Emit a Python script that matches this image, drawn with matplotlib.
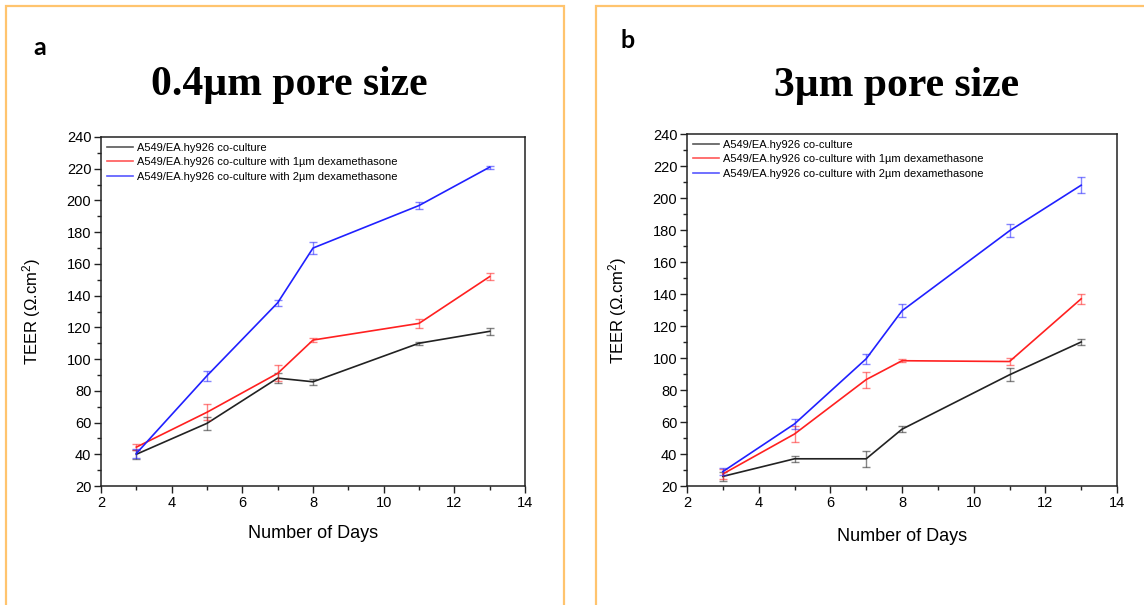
import matplotlib.pyplot as plt
from matplotlib.patches import Rectangle
from matplotlib.ticker import MultipleLocator

plt.rcParams['font.family'] = ['Liberation Sans', 'DejaVu Sans']
plt.rcParams['mathtext.fontset'] = 'custom'
plt.rcParams['mathtext.rm'] = 'Liberation Sans'
plt.rcParams['mathtext.it'] = 'Liberation Sans:italic'

days = [3, 5, 7, 8, 11, 13]
series_names = ["A549/EA.hy926 co-culture",
                "A549/EA.hy926 co-culture with 1µm dexamethasone",
                "A549/EA.hy926 co-culture with 2µm dexamethasone"]
colors = ["#222222", "#ff2020", "#2020ff"]

# 0.4 µm pore size
small_mean = [[40, 59.5, 88, 85.7, 110, 117.5],
              [44.5, 66.5, 91, 112, 122.5, 152],
              [40.5, 89.5, 135.5, 170, 196.8, 221]]
small_err = [[3, 4, 3, 2, 1, 2],
             [2, 5, 5, 1, 3, 2],
             [3, 3, 2, 4, 2, 1]]

# 3 µm pore size
large_mean = [[26, 37, 37, 55.5, 89.5, 110],
              [27.5, 52.5, 86.5, 98.3, 97.8, 137],
              [29, 58.8, 99.5, 129.5, 179.5, 208]]
large_err = [[3, 2, 5, 2, 4, 2],
             [3, 5, 5, 1, 2, 3],
             [2, 3, 3, 4, 4, 5]]

W, H = 1144, 605
fig = plt.figure(figsize=(W / 100, H / 100), dpi=100)


def px_axes(x0, y0, x1, y1):
    return fig.add_axes([x0 / W, 1 - y1 / H, (x1 - x0) / W, (y1 - y0) / H])


def draw_panel(ax, means, errs, xpad):
    for name, c, m, e in zip(series_names, colors, means, errs):
        ax.plot(days, m, color=c, lw=1.2, label=name)
        ax.errorbar(days, m, yerr=e, fmt='none', ecolor=c, elinewidth=1.0,
                    capsize=3, capthick=1.0, alpha=0.55)
    ax.set_xlim(2, 14)
    ax.set_ylim(20, 240)
    ax.xaxis.set_major_locator(MultipleLocator(2))
    ax.xaxis.set_minor_locator(MultipleLocator(1))
    ax.yaxis.set_major_locator(MultipleLocator(20))
    ax.yaxis.set_minor_locator(MultipleLocator(10))
    ax.tick_params(which='both', direction='out', top=False, right=False,
                   labelsize=10.5, width=1.0, color='#222222')
    ax.tick_params(which='major', length=5, pad=2)
    ax.tick_params(which='minor', length=3)
    for s in ax.spines.values():
        s.set_linewidth(1.1)
        s.set_color('#222222')
    ax.set_xlabel("Number of Days", fontsize=13, labelpad=xpad)
    ax.set_ylabel("TEER (Ω.cm$^2$)", fontsize=12, labelpad=17)
    leg = ax.legend(loc='upper left', frameon=False, fontsize=8.0,
                    handlelength=2.3, handletextpad=0.4, labelspacing=0.38,
                    borderaxespad=0.55, borderpad=0.0)
    for line in leg.get_lines():
        line.set_alpha(0.75)


ax_a = px_axes(101, 137, 525, 486)
draw_panel(ax_a, small_mean, small_err, 11)
ax_b = px_axes(687, 134, 1117, 486)
draw_panel(ax_b, large_mean, large_err, 13)

# orange panel frames
frame_col = '#ffc46e'
fig.add_artist(Rectangle((6 / W, -0.05), (564 - 6) / W, 1.05 - 6.5 / H,
                         transform=fig.transFigure, fill=False,
                         edgecolor=frame_col, lw=1.6))
fig.add_artist(Rectangle((596 / W, -0.05), 0.6, 1.05 - 6.5 / H,
                         transform=fig.transFigure, fill=False,
                         edgecolor=frame_col, lw=1.6))

# panel letters and titles
fig.text(33 / W, 1 - 55 / H, "a", fontsize=18, fontweight='bold',
         family=['Lato', 'DejaVu Sans'], va='baseline')
fig.text(620 / W, 1 - 48 / H, "b", fontsize=18, fontweight='bold',
         family=['Lato', 'DejaVu Sans'], va='baseline')
fig.text(289 / W, 1 - 95 / H, "0.4µm pore size", fontsize=30, fontweight='bold',
         family=['Liberation Serif', 'DejaVu Serif'], ha='center', va='baseline')
fig.text(897 / W, 1 - 96 / H, "3µm pore size", fontsize=30, fontweight='bold',
         family=['Liberation Serif', 'DejaVu Serif'], ha='center', va='baseline')

fig.savefig("out.png", dpi=100)
